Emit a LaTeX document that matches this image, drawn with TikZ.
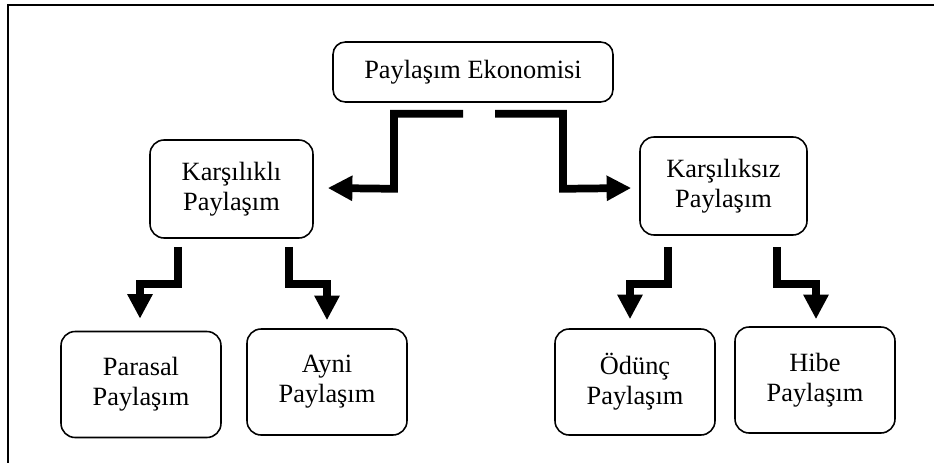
\documentclass[tikz,border=0pt]{standalone}
\usepackage{fontspec}
\setmainfont{Liberation Serif}
\usetikzlibrary{arrows.meta}
\tikzset{
  kutu/.style={draw,line width=0.9pt,rounded corners=8pt,align=center,
    font=\fontsize{15}{17}\selectfont},
  kalinok/.style={line width=4.4pt,-{Triangle[length=14pt,width=13.6pt]}}
}
\begin{document}
\begin{tikzpicture}[x=0.02cm,y=-0.02cm]
        \useasboundingbox (0,0) rectangle (934,463);
        \draw[line width=1.1pt](8,475) |- (945,5);
        \node[kutu,minimum width=5.6cm,minimum height=1.2cm,rounded corners=7pt] (ust) at (473,72) {Paylaşım Ekonomisi};
        \node[kutu,minimum width=3.26cm,minimum height=1.96cm] (kars) at (231.5,189) {Karşılıklı\\Paylaşım};
        \node[kutu,minimum width=3.34cm,minimum height=1.96cm] (karssiz) at (723.5,186) {Karşılıksız\\Paylaşım};
        \foreach \ad/\x/\y/\yazi in {par/141/384.5/Parasal,
        ayni/327/382/Ayni,
        odunc/635/382/Ödünç,
        hibe/815/380/Hibe}{
            \node[kutu,minimum width=3.2cm,minimum height=2.12cm] (\ad) at (\x,\y) {\yazi\\Paylaşım};
        }
        \draw[kalinok]([shift={(-10,11)}]ust.south) -| ++(-69,75) -- ([shift={(14,-1)}]kars.east);
        \draw[kalinok]([shift={(22,11)}]ust.south) -| ++(68,75) -- ([shift={(-8,2)}]karssiz.west);
        \foreach \ust/\dx/\dy/\alt/\ex/\ey in {kars/-53.5/8/par/-1/-12,
        kars/57.5/8/ayni/0/-8,
        karssiz/-55.5/11/odunc/-5/-9,
        karssiz/53.5/11/hibe/1/-7}{
            \draw[kalinok]([shift={(\dx,\dy)}]\ust.south) -- ++(0,37) -| ([shift={(\ex,\ey)}]\alt.north);
        }
    \end{tikzpicture}
\end{document}
